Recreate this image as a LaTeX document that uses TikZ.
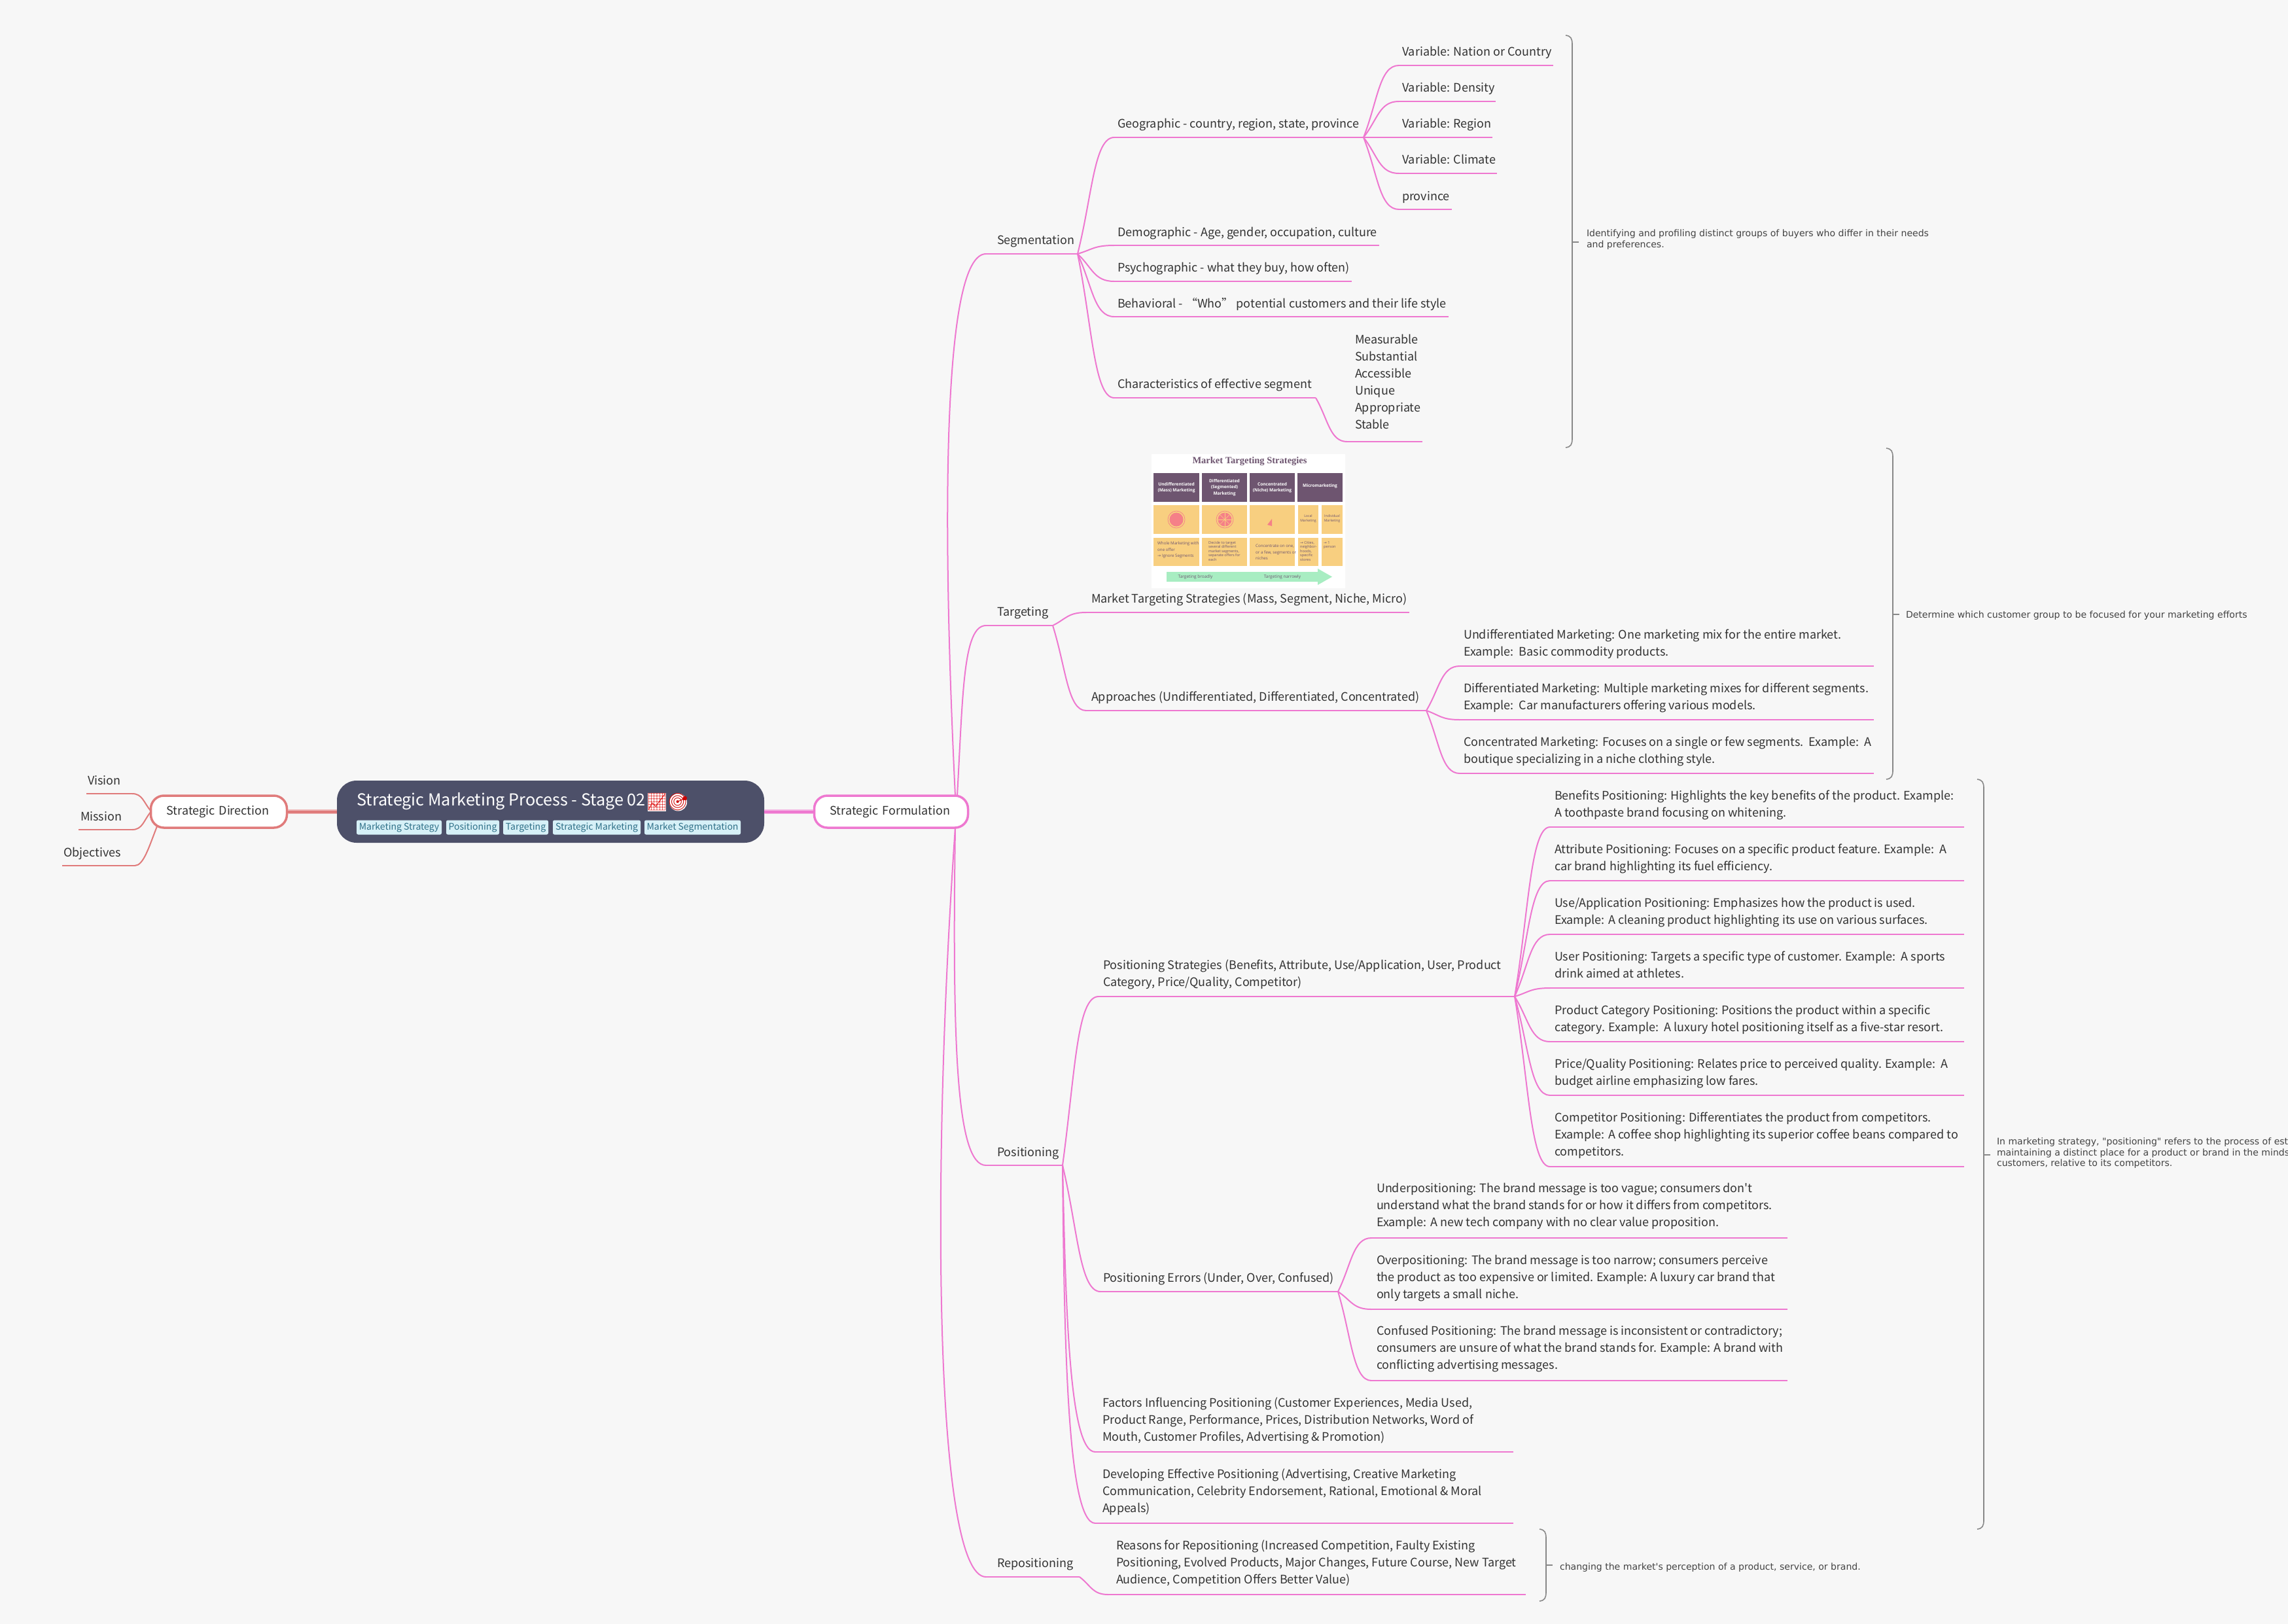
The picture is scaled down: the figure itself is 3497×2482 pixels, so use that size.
\documentclass[tikz,border=0pt]{standalone}
\usepackage{fontspec}
\usetikzlibrary{calc}
\setmainfont{Noto Sans CJK SC}
\newfontfamily\srcfont{Noto Sans CJK SC}
\newfontfamily\notefont{DejaVu Sans}
\newfontfamily\imgfont{Open Sans}
\newfontfamily\imgtitle{Liberation Serif}
\newfontfamily\emojifont{Noto Emoji}
\definecolor{bgc}{HTML}{F7F7F7}
\definecolor{pinkc}{HTML}{EE78D0}
\definecolor{pinkl}{HTML}{F3B8E4}
\definecolor{redc}{HTML}{E07B7B}
\definecolor{redl}{HTML}{EEB9B9}
\definecolor{inkc}{HTML}{333333}
\definecolor{notec}{HTML}{444444}
\definecolor{bracec}{HTML}{888888}
\definecolor{rootc}{HTML}{4D5069}
\definecolor{tagbg}{HTML}{D6F0F7}
\definecolor{tagink}{HTML}{2F7088}
\definecolor{plum}{HTML}{6E5570}
\definecolor{sand}{HTML}{F8CF80}
\definecolor{coral}{HTML}{F58088}
\definecolor{mint}{HTML}{A8EDC2}
\newcommand\mainsize{\srcfont\fontsize{18}{26}\selectfont}
\tikzset{
  lbl/.style={inner sep=0pt,outer sep=0pt,align=left,anchor=north west,text=inkc,font=\mainsize},
  notetxt/.style={inner sep=0pt,outer sep=0pt,align=left,anchor=west,text=notec,font=\notefont\fontsize{14.05}{16.6}\selectfont},
  uline/.style={draw=pinkc,line width=2.4pt},
  curve/.style={draw=pinkc,line width=2pt},
  uliner/.style={draw=redc,line width=2.4pt},
  curver/.style={draw=redc,line width=2pt},
  brace/.style={draw=bracec,line width=1.6pt},
  subroot/.style={draw=#1,fill=white,line width=3.5pt,rounded corners=20pt,minimum height=49pt,inner sep=0pt,text=inkc,font=\mainsize},
  tagbox/.style={fill=tagbg,rounded corners=2.5pt,inner sep=0pt,minimum height=22pt,text=tagink,font=\srcfont\fontsize{14}{18}\selectfont},
  imgsm/.style={inner sep=0pt,align=left,anchor=north west,text=plum,font=\imgfont\fontsize{6.2}{9.4}\selectfont},
  imghd/.style={inner sep=0pt,align=center,text=white,font=\imgfont\bfseries\fontsize{6.6}{9.4}\selectfont},
}
% text block with an underline; name, text x, centre y of first line, x0, x1, line y, text
\newcommand\br[7]{%
  \node[lbl] (#1) at ({#2},{#3-11}) {\strut #7};
  \coordinate (#1-a) at (#4,#6);
  \coordinate (#1-b) at (#5,#6);
  \draw[uline] (#1-a) -- (#1-b);}
\newcommand\brr[7]{%
  \node[lbl] (#1) at ({#2},{#3-11}) {\strut #7};
  \coordinate (#1-a) at (#4,#6);
  \coordinate (#1-b) at (#5,#6);
  \draw[uliner] (#1-a) -- (#1-b);}
\newcommand\cv[6][curve]{\draw[#1] let \p1=(#2),\p2=(#3) in (\p1) .. controls ({\x1+#4*(\x2-\x1)},{\y1+#5*(\y2-\y1)}) and ({\x1+#6*(\x2-\x1)},{\y2}) .. (\p2);}
\newcommand\cc[2]{\cv{#1}{#2}{.4}{.5}{.45}}
% brace: name, x, top y, bottom y, tip y
\newcommand\bracket[5]{%
  \coordinate (#1-tip) at (#2,#5);
  \coordinate (#1-out) at ({#2+10},#5);
  \draw[brace] ({#2-10},#3) .. controls ({#2-2},{#3+1}) and (#2,{#3+5}) .. (#2,{#3+14}) -- (#2,{#4-14}) .. controls (#2,{#4-5}) and ({#2-2},{#4-1}) .. ({#2-10},#4);
  \draw[brace] (#1-tip) -- (#1-out);}
\newcommand\imgbox[5]{\fill[#5] (#1,#2) rectangle (#3,#4);}
\begin{document}
\begin{tikzpicture}[x=1pt,y=-1pt]
\useasboundingbox (0,0) rectangle (3497,2482);
\fill[bgc] (0,0) rectangle (3497,2482);

% ---------- centre ----------
\node[fill=rootc,rounded corners=30pt,minimum width=653pt,minimum height=95pt,inner sep=0pt] (root) at (841.5,1240.5) {};
\node[inner sep=0pt,anchor=west,text=white,font=\srcfont\fontsize{25.2}{32}\selectfont] (title) at (545,1225) {Strategic Marketing Process - Stage 02};
\fill[white] (990,1212) rectangle (1018,1240);
\node[inner sep=0pt,text=red!75!gray,font=\emojifont\fontsize{26}{30}\selectfont] (chart) at (1004,1226) {📈};
\fill[white] (1036.5,1226) circle (13.5);
\node[inner sep=0pt,text=red!80!black,font=\emojifont\fontsize{26}{30}\selectfont] (target) at (1036.5,1226) {🎯};
\node[tagbox,minimum width=130pt] (t1) at (610,1264.5) {Marketing Strategy};
\node[tagbox,minimum width=81pt] (t2) at (722.5,1264.5) {Positioning};
\node[tagbox,minimum width=69pt] (t3) at (803.5,1264.5) {Targeting};
\node[tagbox,minimum width=134pt] (t4) at (912,1264.5) {Strategic Marketing};
\node[tagbox,minimum width=147pt] (t5) at (1058.5,1264.5) {Market Segmentation};

\node[subroot=redc,minimum width=208pt,xshift=-1pt,text width=208pt,align=center] (sd) at (335.5,1240.5) {\hspace*{-3pt}Strategic Direction};
\node[subroot=pinkc,minimum width=235pt,text width=235pt,align=center] (sf) at (1362,1240.5) {\hspace*{-3pt}Strategic Formulation};
\draw[redl,line width=7pt] (sd.east) -- (root.west);
\draw[redc,line width=4pt] (sd.east) -- (root.west);
\draw[pinkl,line width=7pt] (root.east) -- (sf.west);
\draw[pinkc,line width=4pt] (root.east) -- (sf.west);

\coordinate (sd-l) at (231,1240);
\coordinate (sd-d) at (240,1263);
\coordinate (sf-u) at (1460,1216);
\coordinate (sf-v) at (1463,1216);
\coordinate (sf-d) at (1460,1265);

% ---------- left ----------
\brr{vision}{134}{1192}{132}{202}{1213}{Vision}
\brr{mission}{123}{1247}{120}{202}{1268}{Mission}
\brr{objectives}{97}{1302}{95}{206}{1323}{Objectives}
\cv[curver]{sd-l}{vision-b}{.4}{.5}{.45}
\cv[curver]{sd-l}{mission-b}{.4}{.5}{.45}
\cv[curver]{sd-d}{objectives-b}{.35}{.5}{.6}

% ---------- segmentation ----------
\br{seg}{1524}{366.5}{1507}{1647}{388}{Segmentation}
\cv{sf-u}{seg-a}{-.43}{.5}{-.43}
\br{geo}{1708}{188}{1703}{2084}{210}{Geographic - country, region, state, province}
\cc{seg-b}{geo-a}
\br{v1}{2143}{78}{2138}{2374}{100}{Variable: Nation or Country}
\br{v2}{2143}{133}{2138}{2286}{155}{Variable: Density}
\br{v3}{2143}{188}{2138}{2281}{210}{Variable: Region}
\br{v4}{2143}{243}{2138}{2288}{265}{Variable: Climate}
\br{v5}{2143}{299}{2138}{2219}{320}{province}
\cc{geo-b}{v1-a}\cc{geo-b}{v2-a}\cc{geo-b}{v3-a}\cc{geo-b}{v4-a}\cc{geo-b}{v5-a}
\br{demo}{1708}{354}{1703}{2108}{375}{Demographic - Age, gender, occupation, culture}
\br{psy}{1708}{408}{1703}{2066}{430}{Psychographic - what they buy, how often)}
\br{beh}{1708}{463}{1703}{2214}{484}{Behavioral -   “Who”   potential customers and their life style}
\br{cha}{1708}{586}{1703}{2011}{608}{Characteristics of effective segment}
\cc{seg-b}{demo-a}\cc{seg-b}{psy-a}\cc{seg-b}{beh-a}\cc{seg-b}{cha-a}
\br{meas}{2071}{518}{2059}{2174}{675}{Measurable\\Substantial\\Accessible\\Unique\\Appropriate\\Stable}
\cc{cha-b}{meas-a}
\bracket{bs}{2403}{54}{684}{370}
\node[notetxt] (ns) at (2425,366) {Identifying and profiling distinct groups of buyers who differ in their needs\\and preferences.};

% ---------- targeting ----------
\br{tar}{1524}{934}{1507}{1609}{956}{Targeting}
\cv{sf-v}{tar-a}{.2}{.6}{.2}
\fill[white] (1760,694) rectangle (2056,899);
\node[inner sep=0pt,text=plum,font=\imgtitle\bfseries\fontsize{14.5}{16}\selectfont] (imgT) at (1910,705.5) {Market Targeting Strategies};
\imgbox{1763}{723}{1833}{767}{plum}
\imgbox{1837}{723}{1906}{767}{plum}
\imgbox{1910}{723}{1979}{767}{plum}
\imgbox{1983}{723}{2052}{767}{plum}
\imgbox{1763}{772}{1833}{816}{sand}
\imgbox{1837}{772}{1906}{816}{sand}
\imgbox{1910}{772}{1979}{816}{sand}
\imgbox{1984}{772}{2015}{816}{sand}
\imgbox{2020}{772}{2052}{816}{sand}
\imgbox{1763}{822}{1833}{865}{sand}
\imgbox{1837}{822}{1906}{865}{sand}
\imgbox{1910}{822}{1979}{865}{sand}
\imgbox{1984}{822}{2015}{865}{sand}
\imgbox{2020}{822}{2052}{865}{sand}
\node[imghd] (h1) at (1798,745) {Undifferentiated\\(Mass) Marketing};
\node[imghd] (h2) at (1871.5,745) {Differentiated\\(Segmented)\\Marketing};
\node[imghd] (h3) at (1944.5,745) {Concentrated\\(Niche) Marketing};
\node[imghd] (h4) at (2017.5,743) {Micromarketing};
\draw[coral,line width=.7pt] (1798,794) circle (13);
\fill[coral] (1798,794) circle (10.5);
\draw[coral,line width=.7pt] (1872,794) circle (13);
\fill[coral] (1872,794) circle (10.5);
\foreach \a in {0,45,...,315} \draw[sand,line width=.6pt] (1872,794) -- ++(\a:10.5);
\fill[coral] (1944,793) -- (1937,802) -- (1944,804) -- cycle;
\node[imgsm,text=plum,font=\imgfont\fontsize{5.2}{7}\selectfont,align=center,anchor=center] (l1) at (1999.5,793) {Local\\Marketing};
\node[imgsm,font=\imgfont\fontsize{5.2}{7}\selectfont,align=center,anchor=center] (l2) at (2036,793) {Individual\\Marketing};
\node[imgsm] (d1) at (1769,828) {Whole Marketing with\\one offer\\{\notefont →} Ignore Segments};
\node[imgsm,font=\imgfont\fontsize{5.6}{6.5}\selectfont] (d2) at (1847,827) {Decide to target\\several different\\market segments,\\separate offers for\\each};
\node[imgsm] (d3) at (1919,832) {Concentrate on one,\\or a few, segments or\\niches};
\node[imgsm,font=\imgfont\fontsize{5.6}{6.5}\selectfont] (d4) at (1987,827) {{\notefont →} Cities,\\neighbor-\\hoods,\\specific\\stores};
\node[imgsm,font=\imgfont\fontsize{5.6}{6.5}\selectfont] (d5) at (2023,827) {{\notefont →} 1\\person};
\fill[mint] (1783,874) -- (2014,874) -- (2014,869) -- (2036,881.5) -- (2014,894) -- (2014,889) -- (1783,889) -- cycle;
\node[inner sep=0pt,text=plum,font=\imgfont\fontsize{6.5}{8}\selectfont] (a1) at (1827,882) {Targeting broadly};
\node[inner sep=0pt,text=plum,font=\imgfont\fontsize{6.5}{8}\selectfont] (a2) at (1960,882) {Targeting narrowly};
\br{mts}{1668}{914}{1660}{2154}{936}{Market Targeting Strategies (Mass, Segment, Niche, Micro)}
\br{app}{1668}{1064}{1660}{2180}{1086}{Approaches (Undifferentiated, Differentiated, Concentrated)}
\cc{tar-b}{mts-a}\cc{tar-b}{app-a}
\br{a1t}{2237}{969}{2231}{2864}{1018}{Undifferentiated Marketing: One marketing mix for the entire market.\\Example:\ \ Basic commodity products.}
\br{a2t}{2237}{1051}{2231}{2864}{1100}{Differentiated Marketing: Multiple marketing mixes for different segments.\\Example:\ \ Car manufacturers offering various models.}
\br{a3t}{2237}{1133}{2231}{2864}{1182}{Concentrated Marketing: Focuses on a single or few segments.\ \ Example:\ \ A\\boutique specializing in a niche clothing style.}
\cc{app-b}{a1t-a}\cc{app-b}{a2t-a}\cc{app-b}{a3t-a}
\bracket{bt}{2893}{685}{1191}{939}
\node[notetxt] (nt) at (2913,941) {Determine which customer group to be focused for your marketing efforts};

% ---------- positioning ----------
\br{pos}{1524}{1760}{1507}{1624}{1781}{Positioning}
\cv{sf-d}{pos-a}{-.1}{.65}{.04}
\br{ps}{1686}{1474}{1679}{2315}{1523}{Positioning Strategies (Benefits, Attribute, Use/Application, User, Product\\Category, Price/Quality, Competitor)}
\cv{pos-b}{ps-a}{.35}{.55}{.4}
\br{p1}{2376}{1215}{2369}{3002}{1264}{Benefits Positioning: Highlights the key benefits of the product. Example:\\A toothpaste brand focusing on whitening.}
\br{p2}{2376}{1297}{2369}{3002}{1346}{Attribute Positioning: Focuses on a specific product feature. Example:\ \ A\\car brand highlighting its fuel efficiency.}
\br{p3}{2376}{1379}{2369}{3002}{1428}{Use/Application Positioning: Emphasizes how the product is used.\\Example: A cleaning product highlighting its use on various surfaces.}
\br{p4}{2376}{1461}{2369}{3002}{1510}{User Positioning: Targets a specific type of customer. Example:\ \ A sports\\drink aimed at athletes.}
\br{p5}{2376}{1543}{2369}{3002}{1592}{Product Category Positioning: Positions the product within a specific\\category. Example:\ \ A luxury hotel positioning itself as a five-star resort.}
\br{p6}{2376}{1625}{2369}{3002}{1674}{Price/Quality Positioning: Relates price to perceived quality. Example:\ \ A\\budget airline emphasizing low fares.}
\br{p7}{2376}{1707}{2369}{3002}{1783}{Competitor Positioning: Differentiates the product from competitors.\\Example: A coffee shop highlighting its superior coffee beans compared to\\competitors.}
\cc{ps-b}{p1-a}\cc{ps-b}{p2-a}\cc{ps-b}{p3-a}\cc{ps-b}{p4-a}\cc{ps-b}{p5-a}\cc{ps-b}{p6-a}\cc{ps-b}{p7-a}
\br{pe}{1686}{1952}{1682}{2045}{1974}{Positioning Errors (Under, Over, Confused)}
\cc{pos-b}{pe-a}
\br{e1}{2104}{1815}{2096}{2732}{1892}{Underpositioning: The brand message is too vague; consumers don't\\understand what the brand stands for or how it differs from competitors.\\Example: A new tech company with no clear value proposition.}
\br{e2}{2104}{1925}{2096}{2732}{2001}{Overpositioning: The brand message is too narrow; consumers perceive\\the product as too expensive or limited. Example: A luxury car brand that\\only targets a small niche.}
\br{e3}{2104}{2033}{2096}{2732}{2110}{Confused Positioning: The brand message is inconsistent or contradictory;\\consumers are unsure of what the brand stands for. Example: A brand with\\conflicting advertising messages.}
\cc{pe-b}{e1-a}\cc{pe-b}{e2-a}\cc{pe-b}{e3-a}
\br{fa}{1685}{2143}{1674}{2313}{2219}{Factors Influencing Positioning (Customer Experiences, Media Used,\\Product Range, Performance, Prices, Distribution Networks, Word of\\Mouth, Customer Profiles, Advertising \& Promotion)}
\br{de}{1685}{2252}{1674}{2313}{2328}{Developing Effective Positioning (Advertising, Creative Marketing\\Communication, Celebrity Endorsement, Rational, Emotional \& Moral\\Appeals)}
\cv{pos-b}{fa-a}{.1}{.5}{.2}
\cv{pos-b}{de-a}{.05}{.5}{.15}
\bracket{bp}{3032}{1191}{2337}{1765}
\node[notetxt] (np) at (3052,1762.5) {In marketing strategy, "positioning" refers to the process of establishing and\\maintaining a distinct place for a product or brand in the minds of target\\customers, relative to its competitors.};

% ---------- repositioning ----------
\br{rep}{1524}{2388}{1507}{1650}{2410}{Repositioning}
\cv{sf-d}{rep-a}{-.8}{.47}{-.66}
\br{rea}{1706}{2361}{1694}{2332}{2437}{Reasons for Repositioning (Increased Competition, Faulty Existing\\Positioning, Evolved Products, Major Changes, Future Course, New Target\\Audience, Competition Offers Better Value)}
\cc{rep-b}{rea-a}
\bracket{br}{2363}{2337}{2447}{2392}
\node[notetxt] (nr) at (2384,2396) {changing the market's perception of a product, service, or brand.};
\end{tikzpicture}
\end{document}
